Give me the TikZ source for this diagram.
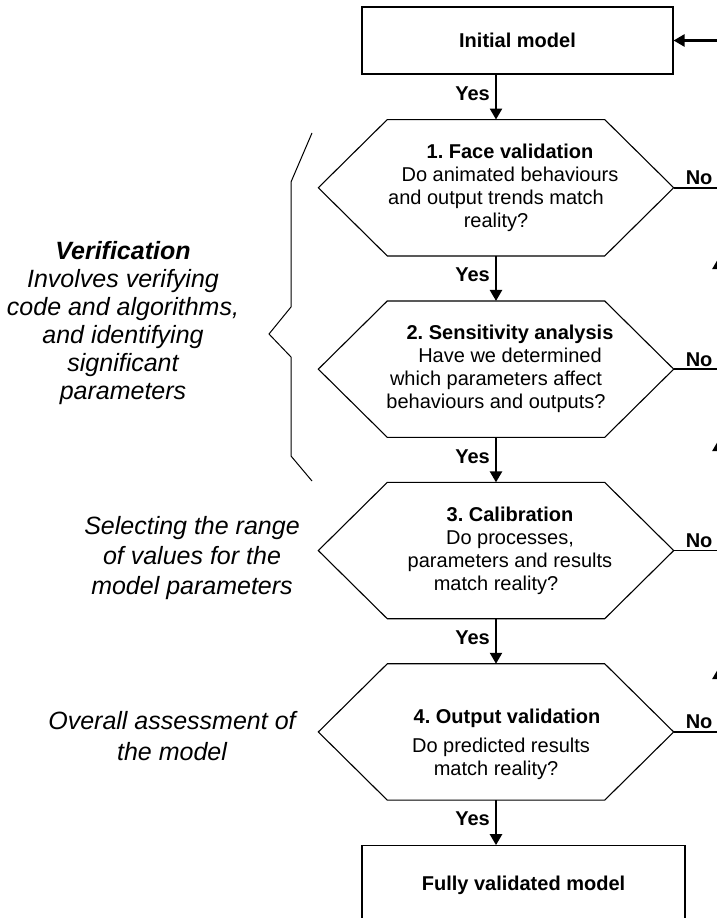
\documentclass[tikz,border=0pt]{standalone}
\usepackage{fontspec}
\setmainfont{Liberation Sans}
\usetikzlibrary{arrows.meta,positioning,calc}
\newcommand{\indt}[1][28pt]{\hspace*{#1}}
\frenchspacing

\begin{document}
\begin{tikzpicture}[
    x=1pt,y=-1pt,
    node distance=45pt,
    every node/.style={font=\fontsize{20}{23}\selectfont},
    box/.style={draw,line width=1.1pt,minimum height=67pt,minimum width=311pt,
      inner sep=0pt,font=\bfseries\fontsize{20}{23}\selectfont},
    hexbox/.style={minimum width=355pt,minimum height=136pt,align=center,inner sep=0pt},
    hexline/.style={line width=1.1pt,line join=miter},
    note/.style={font=\itshape\fontsize{25}{28}\selectfont,align=center},
    ans/.style={font=\bfseries\fontsize{20}{23}\selectfont},
    flow/.style={line width=2.4pt,-{Triangle[length=11pt,width=12pt]}},
    link/.style={line width=1.5pt}
  ]
  \useasboundingbox (0,0) rectangle (717,918);
  \clip (0,0) rectangle (717,918);
  \node[box] (init) at (517.5,40.5) {Initial model};
  \node[hexbox,below=of init,xshift=-21.5pt] (h1) {\indt\textbf{1. Face validation}\\\indt Do animated behaviours\\and output trends match\\reality?};
  \node[hexbox,below=of h1] (h2) {\indt\textbf{2. Sensitivity analysis}\\\indt Have we determined\\which parameters affect\\behaviours and outputs?};
  \node[hexbox,below=of h2] (h3) {\indt\textbf{3. Calibration}\\\indt Do processes,\\\indt parameters and results\\match reality?};
  \node[hexbox,below=of h3] (h4) {\strut\\ \indt[22pt]\textbf{4. Output validation}\\[6pt] \indt[10pt]Do predicted results\\match reality?};
  \node[box,minimum width=323pt,minimum height=80pt,below=of h4,xshift=27.5pt] (final) {Fully validated model};
  \foreach \h in {h1,h2,h3,h4}
    \draw[hexline] (\h.west) -- ([xshift=69pt]\h.north west) -- ([xshift=-69pt]\h.north east)
      -- (\h.east) -- ([xshift=-69pt]\h.south east) -- ([xshift=69pt]\h.south west) -- cycle;

  \draw[flow] (h1.north |- init.south) -- node[ans,left,pos=.42,inner xsep=5pt] {Yes} (h1.north);
  \foreach \a/\b in {h1/h2,h2/h3,h3/h4}
    \draw[flow] (\a.south) -- node[ans,left,pos=.42,inner xsep=5pt] {Yes} (\b.north);
  \draw[flow] (h4.south) -- node[ans,left,pos=.42,inner xsep=5pt] {Yes} (h4.south |- final.north);

  \coordinate (fb1) at (718.5,258);
  \coordinate (fb2) at (718.5,440);
  \coordinate (fb3) at (718.5,668);
  \draw[flow] (h4.east) -- node[ans,above,inner sep=2pt,xshift=3pt] {No} (h4.east -| fb3) -- (fb3);
  \draw[link] (h3.east) -- node[ans,above,inner sep=2pt,xshift=3pt] {No} (h3.east -| fb3);
  \draw[flow] (fb3) -- (fb2);
  \draw[link] (h2.east) -- node[ans,above,inner sep=2pt,xshift=3pt] {No} (h2.east -| fb2);
  \draw[flow] (fb2) -- (fb1);
  \draw[link] (h1.east) -- node[ans,above,inner sep=2pt,xshift=3pt] {No} (h1.east -| fb1);
  \draw[flow] (fb1) |- (init.east);

  \draw[line width=1pt] (312,133) -- (291,182) -- (291,307) -- (269,334) -- (291,357) -- (291,456) -- (312,481);
  \node[note] (verif) at (123,323) {\textbf{Verification}\\Involves verifying\\code and algorithms,\\and identifying\\significant\\parameters};
  \node[note,font=\itshape\fontsize{25}{30}\selectfont] (calib) at (192,558) {Selecting the range\\of values for the\\model parameters};
  \node[note,font=\itshape\fontsize{25}{31}\selectfont] (overall) at (172,736) {Overall assessment of\\the model};
\end{tikzpicture}
\end{document}
